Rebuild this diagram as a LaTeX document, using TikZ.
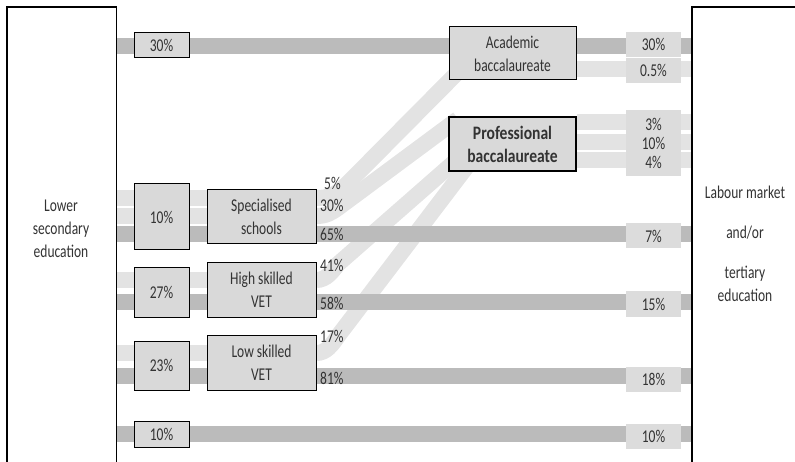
\documentclass[tikz,border=0pt]{standalone}
\usepackage{fontspec}
\setmainfont{Carlito}[FakeStretch=0.75, BoldFeatures={FakeStretch=0.82}]
\usepackage{tikz}
\usetikzlibrary{backgrounds}
\definecolor{bandgray}{HTML}{BBBBBB}
\definecolor{bandlight}{HTML}{E3E3E3}
\definecolor{boxgray}{HTML}{D9D9D9}
\definecolor{labgray}{HTML}{DCDCDC}
\definecolor{txtgray}{HTML}{333333}

\begin{document}
\begin{tikzpicture}[x=1pt, y=-1pt, font=\fontsize{18}{23}\selectfont, text=txtgray,
  darkband/.style={line width=16pt, draw=bandgray},
  lightband/.style={line width=16pt, draw=bandlight},
  frame/.style={draw=black, line width=1.2pt},
  sidebox/.style={minimum width=109pt, minimum height=455pt, anchor=north west, inner sep=0pt},
  pctbox/.style={draw=black, line width=1pt, fill=boxgray, minimum width=55pt, inner sep=0pt},
  stagebox/.style={draw=black, line width=1pt, fill=boxgray, minimum width=109pt, minimum height=54pt, align=center, inner sep=0pt},
  outlabel/.style={fill=labgray, minimum width=55pt, minimum height=25pt, inner sep=0pt, align=center},
  flowlabel/.style={anchor=west, inner sep=0pt}]
\useasboundingbox (0,0) rectangle (795,462);

% side blocks
\node[sidebox] (lower) at (7,7) {};
\draw[frame] (lower.south west) -- (lower.north west) -- (lower.north east) -- (lower.south east);
\node[sidebox, minimum width=103pt] (labour) at (692,7) {};
\draw[frame] (labour.south west) -- (labour.north west) -- (labour.north east);
\node[align=center] (lowertext) at (61,228.5) {Lower\\secondary\\education};
\node[align=center] (labourtext) at (745,244) {Labour market\\[17pt]and/or\\[17pt]tertiary\\education};

% shares leaving lower secondary
\node[pctbox, minimum height=25pt] (t30) at (161.5,45.5) {30\%};
\node[pctbox, minimum height=66pt] (sp10) at (161.5,217) {10\%};
\node[pctbox, minimum height=49pt] (hs27) at (161.5,292.5) {27\%};
\node[pctbox, minimum height=49pt] (ls23) at (161.5,365.5) {23\%};
\node[pctbox, minimum height=26pt] (b10) at (161.5,434) {10\%};

% upper secondary tracks
\node[stagebox] (spec) at (261.5,217) {Specialised\\schools};
\node[stagebox] (hsvet) at (261.5,290) {High skilled\\VET};
\node[stagebox, minimum height=55pt] (lsvet) at (261.5,362.5) {Low skilled\\VET};
\node[stagebox, minimum width=127pt, minimum height=53pt] (acad) at (512.5,53.5) {Academic\\baccalaureate};
\node[stagebox, minimum width=127pt, line width=1.6pt, font=\fontsize{19}{23}\selectfont\bfseries] (prof) at (512.5,144) {Professional\\baccalaureate};

% transition shares
\node[flowlabel] (f5) at (324,183) {5\%};
\node[flowlabel] (f30) at (320,205) {30\%};
\node[flowlabel] (f65) at (320,234) {65\%};
\node[flowlabel] (f41) at (320,265) {41\%};
\node[flowlabel] (f58) at (320,303) {58\%};
\node[flowlabel] (f17) at (320,336) {17\%};
\node[flowlabel] (f81) at (320,378) {81\%};

% shares reaching labour market
\node[outlabel] (o30) at (653.5,44.5) {30\%};
\node[outlabel] (o05) at (653.5,70.5) {0.5\%};
\node[outlabel, minimum height=66pt] (oprof) at (653.5,143) {3\%\\[-4pt]10\%\\[-4pt]4\%};
\node[outlabel] (o7) at (653.5,236) {7\%};
\node[outlabel] (o15) at (653.5,304) {15\%};
\node[outlabel] (o18) at (653.5,379) {18\%};
\node[outlabel] (o10) at (653.5,436.5) {10\%};

\begin{scope}[on background layer]
% flows into the baccalaureates
\draw[lightband] (spec.east |- 0,198) .. controls (328,198) and (336,195) .. (346,185) -- (470,60);
\draw[lightband] (spec.east |- 0,216) .. controls (326,216) and (331,213) .. (338,208) -- (458,119);
\draw[lightband] (hsvet.east |- 0,280) .. controls (326,280) and (332,272) .. (338,264) -- (460,157);
\draw[lightband] (lsvet.east |- 0,353) .. controls (326,353) and (332,345) .. (338,336) -- (468,165);
% straight flows
\draw[darkband] (lower.east |- 0,46) -- (labour.west |- 0,46);
\draw[lightband] (acad.east |- 0,69) -- (labour.west |- 0,69);
\foreach \y in {122,142,160}
  \draw[lightband] (prof.east |- 0,\y) -- (labour.west |- 0,\y);
\foreach \y in {198,216}
  \draw[lightband] (lower.east |- 0,\y) -- (spec.east |- 0,\y);
\draw[darkband] (lower.east |- 0,234) -- (labour.west |- 0,234);
\draw[lightband] (lower.east |- 0,280) -- (hsvet.east |- 0,280);
\draw[darkband] (lower.east |- 0,302) -- (labour.west |- 0,302);
\draw[lightband] (lower.east |- 0,353) -- (lsvet.east |- 0,353);
\draw[darkband] (lower.east |- 0,376) -- (labour.west |- 0,376);
\draw[darkband] (lower.east |- 0,434) -- (labour.west |- 0,434);
\end{scope}
\end{tikzpicture}
\end{document}
